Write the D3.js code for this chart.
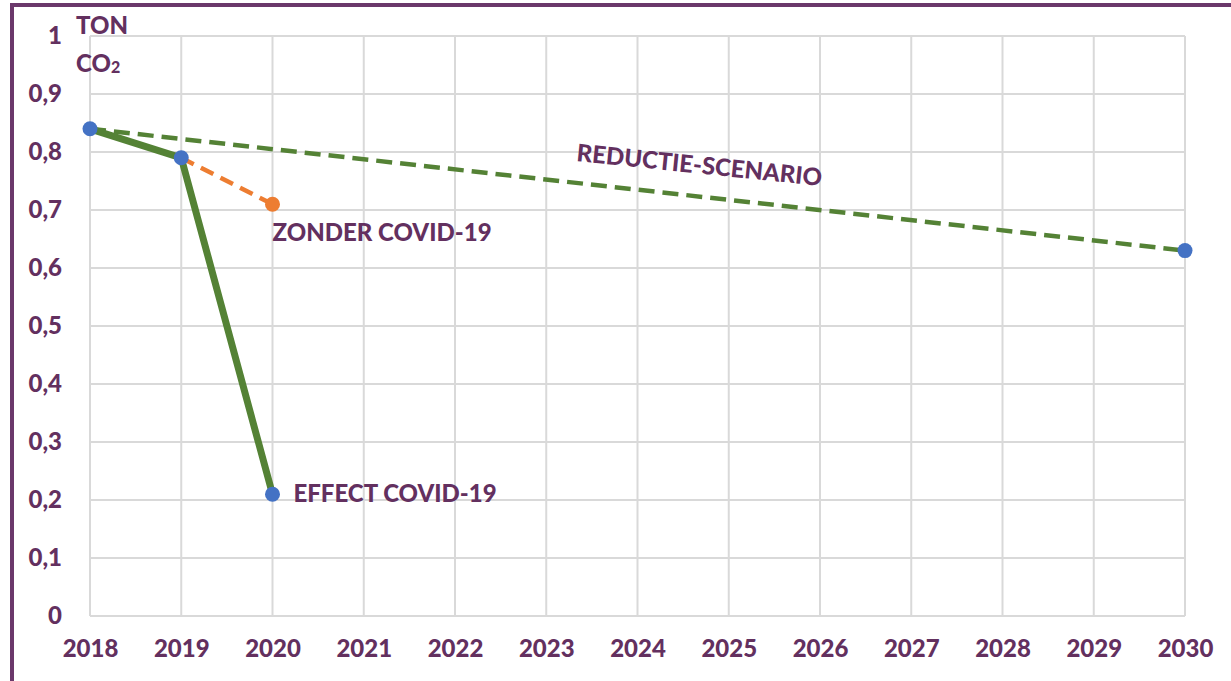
<!DOCTYPE html>
<html>
<head>
<meta charset="utf-8">
<script src="https://cdn.jsdelivr.net/npm/d3@7"></script>
<style>
  html, body { margin: 0; padding: 0; background: #fff; }
  svg { display: block; }
  text { font-family: Lato, "Open Sans", sans-serif; font-weight: 900; fill: #63305f; }
</style>
</head>
<body>
<svg id="chart" width="1231" height="681"></svg>
<script>
// Years on the x axis
const years = [2018, 2019, 2020, 2021, 2022, 2023, 2024, 2025, 2026, 2027, 2028, 2029, 2030];
// Y axis ticks (tonnes CO2)
const yTicks = [0, 0.1, 0.2, 0.3, 0.4, 0.5, 0.6, 0.7, 0.8, 0.9, 1];

// Actual path including the COVID-19 effect
const effectYears = [2018, 2019, 2020];
const effectValues = [0.84, 0.79, 0.21];
// Expected 2020 without COVID-19
const zonderYears = [2019, 2020];
const zonderValues = [0.79, 0.71];
// Reduction scenario towards 2030
const reductieYears = [2018, 2030];
const reductieValues = [0.84, 0.63];

const svg = d3.select("#chart");
const purple = "#63305f";
const green = "#548235";
const orange = "#ed7d31";
const blue = "#4472c4";
const fs = 24;
const fw = 900;

// Frame on the left and top
svg.append("path")
  .attr("d", "M12,681 L12,5 L1231,5")
  .attr("fill", "none")
  .attr("stroke", "#6b386b")
  .attr("stroke-width", 4);

const x = d3.scaleLinear().domain([2018, 2030]).range([90, 1185]);
const y = d3.scaleLinear().domain([0, 1]).range([616, 36]);

// Grid
const grid = svg.append("g");
grid.selectAll("line.h").data(yTicks).join("line")
  .attr("x1", x(2018)).attr("x2", x(2030))
  .attr("y1", d => y(d)).attr("y2", d => y(d))
  .attr("stroke", "#d9d9d9").attr("stroke-width", 2);
grid.selectAll("line.v").data(years).join("line")
  .attr("x1", d => x(d)).attr("x2", d => x(d))
  .attr("y1", y(0)).attr("y2", y(1))
  .attr("stroke", "#d9d9d9").attr("stroke-width", 2);

// Axes (labels only)
const fmt = d => d === 0 ? "0" : d === 1 ? "1" : d3.format(".1f")(d).replace(".", ",");
const yAxis = d3.axisLeft(y).tickValues(yTicks).tickFormat(fmt).tickSize(0).tickPadding(28);
const gy = svg.append("g").attr("transform", `translate(${x(2018)},0)`).call(yAxis);
gy.select(".domain").remove();
gy.selectAll("text").attr("font-size", fs).style("font-family", "Lato, sans-serif").style("font-weight", fw).attr("fill", purple);

const xAxis = d3.axisBottom(x).tickValues(years).tickFormat(d3.format("d")).tickSize(0).tickPadding(24);
const gx = svg.append("g").attr("transform", `translate(0,${y(0)})`).call(xAxis);
gx.select(".domain").remove();
gx.selectAll("text").attr("font-size", fs).style("font-family", "Lato, sans-serif").style("font-weight", fw).attr("fill", purple);

// Unit label
svg.append("text").attr("x", 76).attr("y", 34).attr("font-size", fs).text("TON");
const co2 = svg.append("text").attr("x", 76).attr("y", 72).attr("font-size", fs).text("CO");
co2.append("tspan").attr("font-size", 16).attr("dy", 1).text("2");

const line = d3.line().x(d => x(d[0])).y(d => y(d[1]));

// Reduction scenario (dashed green)
svg.append("path")
  .datum(reductieYears.map((yr, i) => [yr, reductieValues[i]]))
  .attr("d", line).attr("fill", "none")
  .attr("stroke", green).attr("stroke-width", 4.5)
  .attr("stroke-dasharray", "16,8");

// Without COVID-19 (dashed orange)
svg.append("path")
  .datum(zonderYears.map((yr, i) => [yr, zonderValues[i]]))
  .attr("d", line).attr("fill", "none")
  .attr("stroke", orange).attr("stroke-width", 4.5)
  .attr("stroke-dasharray", "14,8");

// With COVID-19 effect (solid green)
svg.append("path")
  .datum(effectYears.map((yr, i) => [yr, effectValues[i]]))
  .attr("d", line).attr("fill", "none")
  .attr("stroke", green).attr("stroke-width", 7)
  .attr("stroke-linejoin", "round");

// Markers
const markers = [
  ...effectYears.map((yr, i) => ({ x: yr, v: effectValues[i], c: blue })),
  { x: reductieYears[1], v: reductieValues[1], c: blue },
  { x: zonderYears[1], v: zonderValues[1], c: orange }
];
svg.selectAll("circle.m").data(markers).join("circle")
  .attr("cx", d => x(d.x)).attr("cy", d => y(d.v)).attr("r", 7.5)
  .attr("fill", d => d.c);

// Annotations
svg.append("text").attr("x", x(2020)).attr("y", y(zonderValues[1]) + 37)
  .attr("font-size", fs).text("ZONDER COVID-19");
svg.append("text").attr("x", x(2020) + 21).attr("y", y(effectValues[2]) + 8)
  .attr("font-size", fs).text("EFFECT COVID-19");
svg.append("text")
  .attr("transform", "translate(576,161) rotate(5.8)")
  .attr("font-size", fs).text("REDUCTIE-SCENARIO");
</script>
</body>
</html>
